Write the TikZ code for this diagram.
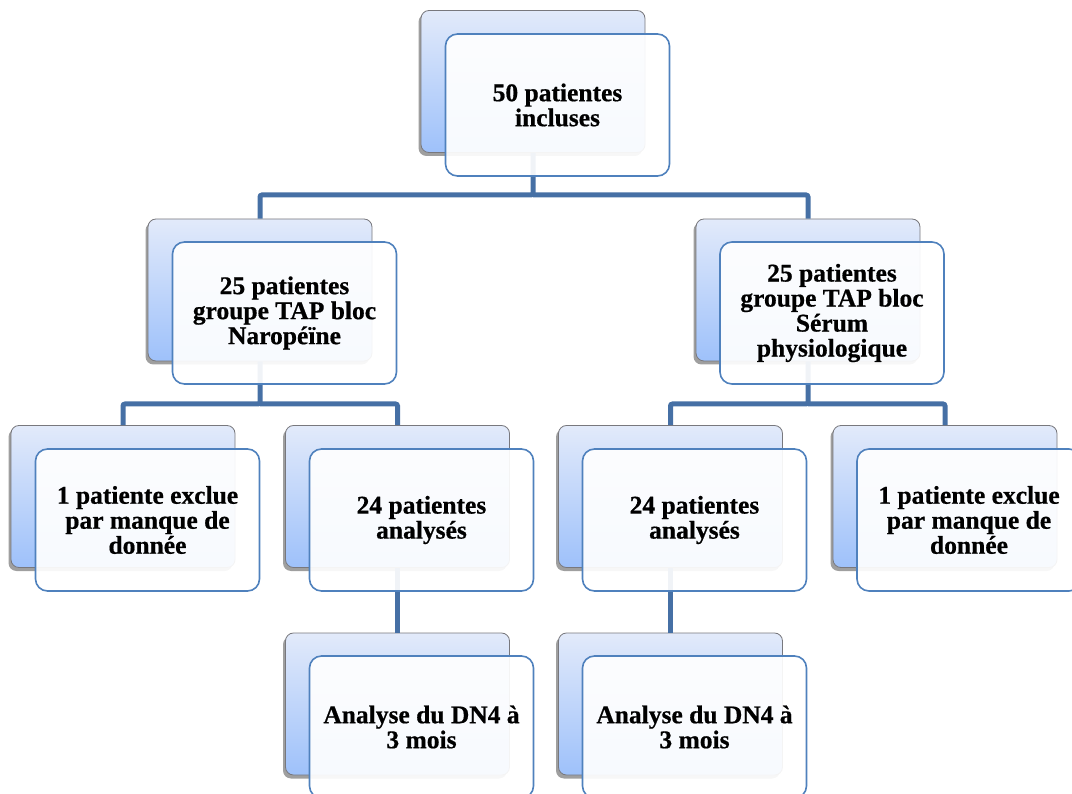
\documentclass[tikz,border=0pt]{standalone}
\usepackage{fontspec}
\setmainfont{Liberation Serif}[BoldFeatures={FakeBold=0.6}]
\usetikzlibrary{shadows}
\definecolor{conncol}{RGB}{70,112,165}
\definecolor{frontborder}{RGB}{79,129,189}
\definecolor{backtop}{RGB}{226,234,250}
\definecolor{backbot}{RGB}{158,193,250}
\definecolor{backborder}{RGB}{120,120,125}
\tikzset{
  backbox/.style={draw=backborder, line width=0.8pt, rounded corners=8pt,
    minimum width=224pt, minimum height=142pt, inner sep=0pt,
    top color=backtop, bottom color=backbot,
    drop shadow={shadow xshift=-2.5pt, shadow yshift=-3.5pt, opacity=0.5, fill=black!75}},
  frontbox/.style={draw=frontborder, line width=1.6pt, rounded corners=12pt,
    minimum width=224pt, minimum height=142pt, inner sep=2pt,
    fill=white, fill opacity=0.92, text opacity=1, align=center,
    font=\fontsize{25.5pt}{25pt}\selectfont\bfseries},
  conn/.style={draw=conncol, line width=5pt, rounded corners=2pt}
}
\begin{document}
\begin{tikzpicture}[x=1pt,y=-1pt]
\useasboundingbox (0,0) rectangle (1072,794);
\begin{scope}
\clip (0,0) rectangle (1072,794);
% back boxes
\node[backbox] (topb) at (533,81.5) {};
\node[backbox] (lb) at (260,290) {};
\node[backbox] (rb) at (808,290) {};
\node[backbox] (ab) at (123,496.5) {};
\node[backbox] (bb) at (397.5,496.5) {};
\node[backbox] (cb) at (670.5,496.5) {};
\node[backbox] (db) at (945,496.5) {};
\node[backbox] (eb) at (397.5,704) {};
\node[backbox] (fb) at (670.5,704) {};
% bars
\coordinate (bar1) at (0,195);
\coordinate (bar2) at (0,404);
% connectors
\draw[conn] (topb.south) -- (topb.south |- bar1) -| (lb.north);
\draw[conn] (topb.south |- bar1) -| (rb.north);
\draw[conn] (lb.south) -- (lb.south |- bar2) -| (ab.north);
\draw[conn] (lb.south |- bar2) -| (bb.north);
\draw[conn] (rb.south) -- (rb.south |- bar2) -| (cb.north);
\draw[conn] (rb.south |- bar2) -| (db.north);
\draw[conn] (bb.south) -- (eb.north);
\draw[conn] (cb.south) -- (fb.north);
% front boxes
\node[frontbox] (top) at (557.5,105) {50 patientes\\incluses};
\node[frontbox] (l) at (284.5,313) {25 patientes\\groupe TAP bloc\\Naropéïne};
\node[frontbox] (r) at (832,313) {25 patientes\\groupe TAP bloc\\Sérum\\physiologique};
\node[frontbox] (a) at (147.5,520) {1 patiente exclue\\par manque de\\donnée};
\node[frontbox] (b) at (421.5,520) {24 patientes\\analysés};
\node[frontbox] (c) at (694.5,520) {24 patientes\\analysés};
\node[frontbox] (d) at (969,520) {1 patiente exclue\\par manque de\\donnée};
\node[frontbox] (e) at (421.5,727) {Analyse du DN4 à\\3 mois};
\node[frontbox] (f) at (694.5,727) {Analyse du DN4 à\\3 mois};
\end{scope}
\end{tikzpicture}
\end{document}
